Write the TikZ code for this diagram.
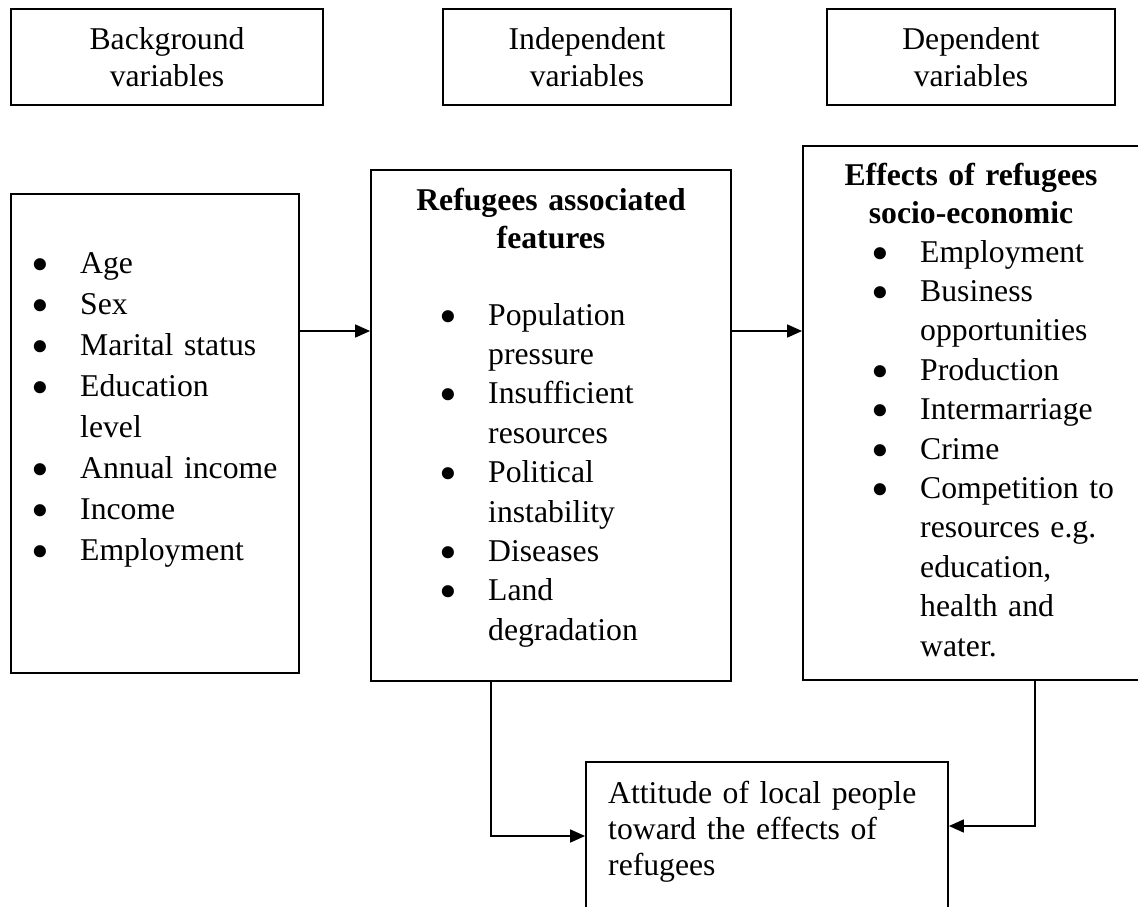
\documentclass[tikz,border=0pt]{standalone}
\usepackage{fontspec}
\usepackage{graphicx}
\setmainfont{Liberation Serif}
\usetikzlibrary{arrows.meta}
\tikzstyle{arrow} = [line width=1.6pt,-{Triangle[length=15pt,width=13pt]}]
\tikzstyle{box} = [draw,line width=1.8pt,rectangle,inner sep=0pt]
\newcommand{\itm}{\makebox[46pt][l]{\hspace*{-3pt}\smash{\raisebox{-8pt}{\scalebox{1.6}{\textbullet}}}}}
\newcommand{\gap}{\hspace*{46pt}}

\begin{document}
\begin{tikzpicture}[x=1pt,y=-1pt]
			\useasboundingbox (0,0) rectangle (1138,906);
			\clip (0,0) rectangle (1138,906);
			% top headings
			\node[box,minimum width=312pt,minimum height=96pt,align=center,font=\fontsize{31.7}{37}\selectfont] (bghead) at (167,57) {Background\\variables};
			\node[box,minimum width=288pt,minimum height=96pt,align=center,font=\fontsize{31.7}{37}\selectfont] (indhead) at (587,57) {Independent\\variables};
			\node[box,minimum width=288pt,minimum height=96pt,align=center,font=\fontsize{31.7}{37}\selectfont] (dephead) at (971,57) {Dependent\\variables};
			% main boxes
			\node[box,minimum width=288pt,minimum height=479pt] (bgbox) at (155,433.5) {};
			\node[box,minimum width=360pt,minimum height=511pt] (midbox) at (551,425.5) {};
			\node[box,minimum width=337pt,minimum height=534pt] (rtbox) at (971.5,413) {};
			\node[box,minimum width=362pt,minimum height=168pt] (botbox) at (767,846) {};
			% box contents
			\node[anchor=base west,inner sep=0pt,text width=260pt,align=left,font=\fontsize{31.7}{41}\selectfont] (bglist) at (34,273) {\itm Age\\\itm Sex\\\itm Marital status\\\itm Education\\\gap level\\\itm Annual income\\\itm Income\\\itm Employment};
			\node[anchor=base,inner sep=0pt,text width=340pt,align=center,font=\fontsize{31.7}{38}\selectfont\bfseries] (midtitle) at (551,210) {Refugees associated\\features};
			\node[anchor=base west,inner sep=0pt,text width=280pt,align=left,font=\fontsize{31.7}{39.4}\selectfont] (midlist) at (442,325) {\itm Population\\\gap pressure\\\itm Insufficient\\\gap resources\\\itm Political\\\gap instability\\\itm Diseases\\\itm Land\\\gap degradation};
			\node[anchor=base,inner sep=0pt,text width=330pt,align=center,font=\fontsize{31.7}{38}\selectfont\bfseries] (rttitle) at (971,185) {Effects of refugees\\socio-economic};
			\node[anchor=base west,inner sep=0pt,text width=300pt,align=left,font=\fontsize{31.7}{39.4}\selectfont] (rtlist) at (874,262) {\itm Employment\\\itm Business\\\gap opportunities\\\itm Production\\\itm Intermarriage\\\itm Crime\\\itm Competition to\\\gap resources e.g.\\\gap education,\\\gap health and\\\gap water.};
			\node[anchor=base west,inner sep=0pt,text width=330pt,align=left,font=\fontsize{31.7}{36}\selectfont] (bottext) at (608,803) {Attitude of local people\\toward the effects of\\refugees};
			% connectors
			\coordinate (lvl) at (0,331);
			\coordinate (midx) at (491,836);
			\coordinate (rtx) at (1035,826);
			\draw[arrow] (bgbox.east |- lvl) -- (midbox.west |- lvl);
			\draw[arrow] (midbox.east |- lvl) -- (rtbox.west |- lvl);
			\draw[arrow] (midbox.south -| midx) |- (botbox.west |- midx);
			\draw[arrow] (rtbox.south -| rtx) |- (botbox.east |- rtx);
		\end{tikzpicture}
\end{document}
